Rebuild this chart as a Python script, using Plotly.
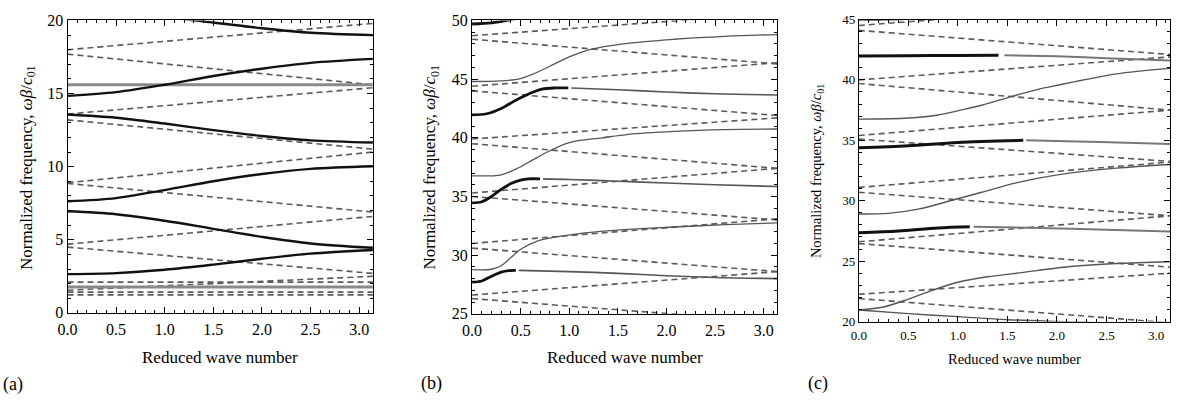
import math
import plotly.graph_objects as go

PI = math.pi
W, H = 1182, 412
FONT = "Times New Roman, Liberation Serif, DejaVu Serif, serif"

# ---------------- Panel (a): 0..20 ----------------
A_X = [0, 0.5, 1.0, 1.5, 2.0, 2.5, PI]
A_BLACK = [
    [20.6, 20.5, 20.23, 19.86, 19.47, 19.16, 19.0],
    [14.84, 15.1, 15.6, 16.2, 16.7, 17.1, 17.37],
    [13.57, 13.35, 12.95, 12.5, 12.1, 11.8, 11.65],
    [7.63, 7.85, 8.4, 9.0, 9.5, 9.85, 10.03],
    [6.95, 6.75, 6.3, 5.75, 5.2, 4.75, 4.45],
    [2.65, 2.72, 2.95, 3.3, 3.7, 4.05, 4.3],
]
A_GRAY_LEVELS = [15.6, 1.77]
A_DASH_START = [18.0, 17.7, 13.6, 13.2, 8.9, 8.85, 4.7, 4.5, 2.1, 1.55, 1.42, 1.23]
A_DASH_END = [19.8, 15.6, 15.4, 11.2, 11.0, 6.9, 6.6, 2.7, 2.1, 2.5, 1.42, 1.23]

# ---------------- Panel (b): 25..50 ----------------
B_BLACK_X = [
    [0, 0.2, 0.36, 0.5],
    [0, 0.15, 0.3, 0.45, 0.6, 0.72, 0.85, 0.99],
    [0, 0.1, 0.2, 0.3, 0.4, 0.5, 0.58, 0.70],
    [0, 0.1, 0.2, 0.3, 0.38, 0.45],
]
B_BLACK_Y = [
    [49.7, 49.8, 50.0, 50.25],
    [41.95, 42.05, 42.5, 43.2, 43.8, 44.15, 44.25, 44.25],
    [34.45, 34.55, 35.0, 35.6, 36.1, 36.4, 36.5, 36.5],
    [27.7, 27.8, 28.2, 28.55, 28.68, 28.7],
]
B_TAIL_X = [
    [1.02, 1.5, 2.0, 2.5, PI],
    [0.73, 1.0, 1.5, 2.0, 2.5, PI],
    [0.48, 1.0, 1.5, 2.0, 2.5, PI],
]
B_TAIL_Y = [
    [44.25, 44.1, 43.9, 43.75, 43.65],
    [36.5, 36.45, 36.3, 36.15, 36.0, 35.85],
    [28.7, 28.6, 28.45, 28.25, 28.1, 28.0],
]
B_THIN_X = [
    [0, 0.3, 0.5, 0.62, 0.8, 1.0, 1.2, 1.6, 2.08, 2.6, PI],
    [0, 0.3, 0.48, 0.62, 0.8, 1.0, 1.34, 1.61, 2.08, 2.6, PI],
    [0, 0.2, 0.3, 0.4, 0.5, 0.67, 0.9, 1.16, 1.6, 2.08, 2.6, PI],
]
B_THIN_Y = [
    [44.8, 44.85, 45.05, 45.4, 46.1, 46.9, 47.5, 48.05, 48.4, 48.65, 48.8],
    [36.76, 36.85, 37.45, 38.1, 38.9, 39.6, 40.0, 40.3, 40.55, 40.7, 40.75],
    [28.76, 28.8, 29.1, 29.8, 30.5, 31.2, 31.6, 31.9, 32.2, 32.4, 32.6, 32.75],
]
B_DASH_START = [48.7, 48.4, 44.4, 44.0, 39.9, 39.5, 35.3, 35.0, 31.0, 30.6, 26.6, 26.3]
B_DASH_END = [50.6, 46.3, 46.4, 41.9, 41.7, 37.4, 37.4, 33.0, 33.1, 28.6, 28.6, 24.3]

# ---------------- Panel (c): 20..45 ----------------
C_BLACK_X = [
    [0, 0.5, 1.0, 1.41],
    [0, 0.5, 1.0, 1.66],
    [0, 0.4, 0.8, 1.12],
]
C_BLACK_Y = [
    [41.98, 42.0, 42.03, 42.05],
    [34.38, 34.55, 34.82, 35.0],
    [27.35, 27.5, 27.75, 27.85],
]
C_TAIL_X = [
    [1.47, 2.0, 2.5, PI],
    [1.69, 2.2, 2.7, PI],
    [1.16, 1.8, 2.5, PI],
]
C_TAIL_Y = [
    [42.05, 41.95, 41.8, 41.6],
    [35.0, 34.9, 34.8, 34.7],
    [27.85, 27.75, 27.6, 27.45],
]
C_THIN_X = [
    [0, 0.3, 0.6],
    [0, 0.5, 0.8, 1.03, 1.24, 1.53, 1.8, 2.03, 2.24, 2.6, PI],
    [0, 0.3, 0.6, 0.97, 1.24, 1.6, 2.14, 2.6, PI],
    [0, 0.25, 0.5, 0.75, 1.0, 1.3, 1.64, 2.14, 2.6, PI],
    [0, 0.5, 1.0, 1.5, 2.0, 2.4],
]
C_THIN_Y = [
    [44.95, 44.97, 45.05],
    [36.75, 36.85, 37.1, 37.5, 37.9, 38.6, 39.2, 39.6, 39.95, 40.5, 40.95],
    [28.9, 28.95, 29.3, 30.1, 30.7, 31.5, 32.3, 32.7, 33.0],
    [20.95, 21.2, 21.85, 22.6, 23.25, 23.7, 24.05, 24.55, 24.8, 24.95],
    [20.95, 20.65, 20.4, 20.15, 20.0, 19.9],
]
C_DASH_START = [44.5, 44.1, 40.0, 39.7, 35.4, 35.1, 31.1, 30.7, 26.6, 26.45, 22.25, 21.9]
C_DASH_END = [46.5, 42.1, 41.9, 37.5, 37.5, 33.25, 33.2, 28.75, 28.75, 24.5, 24.0, 19.9]

Y_TITLE = "Normalized frequency, <i>ωβ</i>/<i>c</i><sub>01</sub>"
X_TITLE = "Reduced wave number"

DASH_COLOR = "#5a5a5a"
fig = go.Figure()


def add_line(xs, ys, ax, color, width, dash=None, spline=True):
    fig.add_trace(go.Scatter(
        x=xs, y=ys, mode="lines", xaxis="x" + ax, yaxis="y" + ax,
        line=dict(color=color, width=width, dash=dash,
                  shape="spline" if spline else "linear", smoothing=0.9),
        showlegend=False, hoverinfo="skip"))


def add_dashes(starts, ends, ax):
    for s, e in zip(starts, ends):
        add_line([0, PI], [s, e], ax, DASH_COLOR, 1.6, dash="6px,4px", spline=False)


# panel a
add_dashes(A_DASH_START, A_DASH_END, "")
for lv in A_GRAY_LEVELS:
    add_line([0, PI], [lv, lv], "", "#8a8a8a", 3, spline=False)
for ys in A_BLACK:
    add_line(A_X, ys, "", "#111111", 2.4)

# panel b
add_dashes(B_DASH_START, B_DASH_END, "2")
for xs, ys in zip(B_THIN_X, B_THIN_Y):
    add_line(xs, ys, "2", "#555555", 1.3)
for xs, ys in zip(B_TAIL_X, B_TAIL_Y):
    add_line(xs, ys, "2", "#555555", 1.6)
for xs, ys in zip(B_BLACK_X, B_BLACK_Y):
    add_line(xs, ys, "2", "#111111", 2.8)

# panel c
add_dashes(C_DASH_START, C_DASH_END, "3")
for xs, ys in zip(C_THIN_X, C_THIN_Y):
    add_line(xs, ys, "3", "#555555", 1.4)
for xs, ys in zip(C_TAIL_X, C_TAIL_Y):
    add_line(xs, ys, "3", "#777777", 2.0)
for xs, ys in zip(C_BLACK_X, C_BLACK_Y):
    add_line(xs, ys, "3", "#111111", 3.0)


def px_x(p):
    return p / W


def px_y(p):
    return 1 - p / H


def xaxis(d0, d1, anchor, fs):
    return dict(domain=[px_x(d0), px_x(d1)], range=[0, PI], anchor=anchor,
                tick0=0, dtick=0.5, tickformat=".1f", ticks="inside", ticklen=6,
                tickcolor="black", tickwidth=1, ticklabelstandoff=2,
                minor=dict(dtick=0.1, tick0=0, ticks="inside", ticklen=3, tickcolor="black"),
                showline=True, linecolor="black", linewidth=1, mirror="allticks",
                showgrid=False, zeroline=False,
                tickfont=dict(family=FONT, size=fs, color="black"))


def yaxis(d0, d1, anchor, rng, fs):
    return dict(domain=[px_y(d1), px_y(d0)], range=rng, anchor=anchor,
                tick0=0, dtick=5, ticks="inside", ticklen=6, tickcolor="black", tickwidth=1,
                minor=dict(dtick=1, tick0=0, ticks="inside", ticklen=3, tickcolor="black"),
                showline=True, linecolor="black", linewidth=1, mirror="allticks",
                showgrid=False, zeroline=False,
                tickfont=dict(family=FONT, size=fs, color="black"))


ann = []


def text(x, y, s, fs, angle=0, xanchor="center"):
    ann.append(dict(x=px_x(x), y=px_y(y), xref="paper", yref="paper", text=s,
                    showarrow=False, textangle=angle, xanchor=xanchor, yanchor="middle",
                    font=dict(family=FONT, size=fs, color="black")))


text(212, 365, X_TITLE, 17)
text(620, 365, X_TITLE, 17)
text(1013, 366, X_TITLE, 14.5)
text(18, 166, Y_TITLE, 17, angle=-90)
text(425, 166, Y_TITLE, 17, angle=-90)
text(814, 170, Y_TITLE, 14.5, angle=-90)
text(15, 393, "(a)", 18, xanchor="right")
text(412, 392, "(b)", 18, xanchor="left")
text(803, 392, "(c)", 18, xanchor="left")

fig.update_layout(
    width=W, height=H, margin=dict(l=0, r=0, t=0, b=0),
    paper_bgcolor="white", plot_bgcolor="white",
    font=dict(family=FONT),
    xaxis=xaxis(58, 366, "y", 16), yaxis=yaxis(13, 318, "x", [0, 20], 16),
    xaxis2=xaxis(466, 774, "y2", 16), yaxis2=yaxis(13, 319, "x2", [25, 50], 16),
    xaxis3=xaxis(856, 1170, "y3", 13), yaxis3=yaxis(12, 327, "x3", [20, 45], 13),
    annotations=ann, showlegend=False,
)

fig.write_html("out.html", config={"displayModeBar": False},
               post_script="document.body.style.margin='0';document.body.style.overflow='hidden';")
